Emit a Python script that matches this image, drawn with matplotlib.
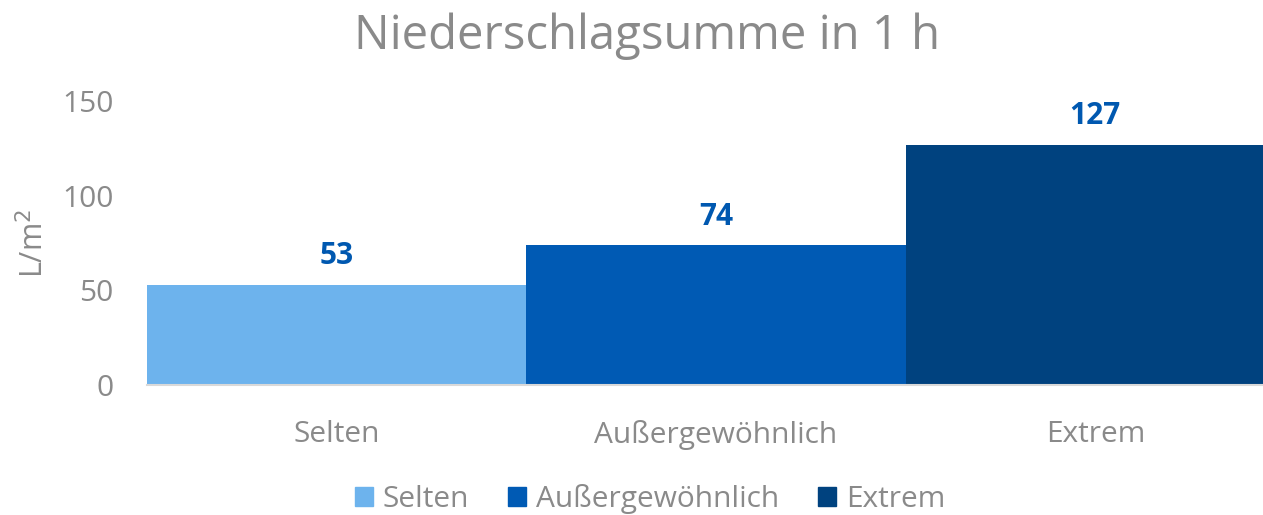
import matplotlib.pyplot as plt
from matplotlib.patches import Patch

# data
categories = ['Selten', 'Außergewöhnlich', 'Extrem']
values = [53, 74, 127]
colors = ['#6DB3ED', '#005AB4', '#00427F']
yticks = [0, 50, 100, 150]

gray = '#8A8A8A'
plt.rcParams['font.family'] = ['Open Sans', 'DejaVu Sans']

fig = plt.figure(figsize=(12.63, 5.15), dpi=100)
ax = fig.add_axes([147 / 1263, 130 / 515, 1 - 147 / 1263, 284 / 515])

xpos = range(len(categories))
ax.bar(xpos, values, width=1.0, color=colors, zorder=2)

for x, v in zip(xpos, values):
    ax.text(x, v + 7, str(v), ha='center', va='bottom', fontsize=21.5,
            fontweight='bold', color='#0058B0')

ax.set_xlim(-0.5, 2.5 - 22 / 379)
ax.set_ylim(0, 150)
ax.set_yticks(yticks)
ax.set_xticks(list(xpos))
ax.set_xticklabels(categories)
ax.tick_params(axis='both', length=0, labelsize=21.5, colors=gray)
ax.tick_params(axis='x', pad=25)
ax.tick_params(axis='y', pad=24)

for s in ['top', 'right', 'left']:
    ax.spines[s].set_visible(False)
ax.spines['bottom'].set_color('#D9D9D9')
ax.spines['bottom'].set_linewidth(1.5)

fig.text(34 / 1263, 1 - 243 / 515, 'L/m$^2$', rotation=90, ha='center',
         va='center', fontsize=22, color=gray)

fig.text(0.512, 1 - 36 / 515, 'Niederschlagsumme in 1 h', fontsize=34,
         color=gray, ha='center', va='center')

handles = [Patch(color=c, label=l) for c, l in zip(colors, categories)]
leg = fig.legend(handles=handles, loc='center', bbox_to_anchor=(650 / 1263, 1 - 499 / 515),
                 ncol=3, frameon=False, fontsize=21.5, handlelength=0.6,
                 handleheight=0.6, handletextpad=0.33, columnspacing=1.3,
                 borderpad=0)
for t in leg.get_texts():
    t.set_color(gray)

fig.savefig('out.png', dpi=100)
